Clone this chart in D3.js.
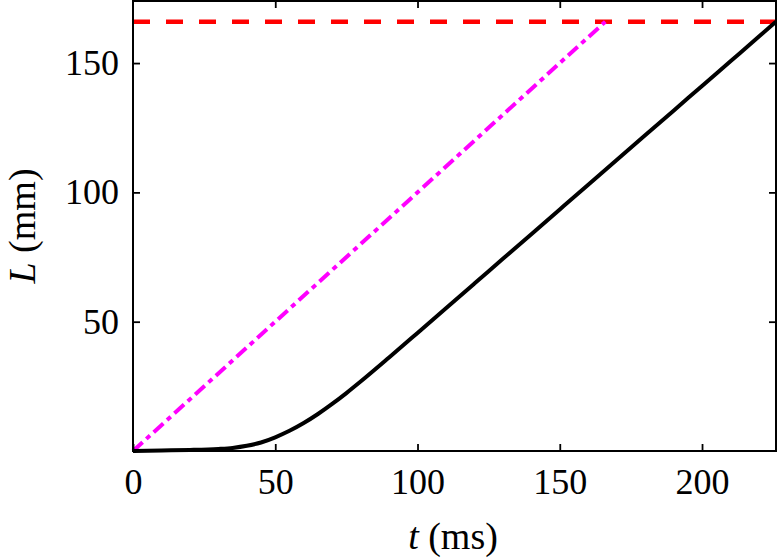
<!DOCTYPE html>
<html>
<head>
<meta charset="utf-8">
<script src="https://cdn.jsdelivr.net/npm/d3@7"></script>
<style>
  body { margin: 0; background: #fff; }
  svg text { font-family: "Liberation Serif", "Times New Roman", Times, serif; }
</style>
</head>
<body>
<svg id="chart" width="777" height="559"></svg>
<script>
// curve: t (ms) vs L (mm)
let tVals = [0, 10, 20, 30, 35, 40, 45, 50, 55, 60, 65, 70, 75, 80, 90, 100, 110, 120, 130, 140, 150, 160, 170, 180, 190, 200, 210, 220, 226];
let lVals = [0, 0.2, 0.4, 0.8, 1.2, 2.0, 3.3, 5.3, 7.8, 10.8, 14.3, 18.2, 22.4, 26.85, 36.15, 45.65, 55.2, 64.75, 74.3, 83.85, 93.4, 102.95, 112.5, 122.05, 131.6, 141.15, 150.7, 160.25, 166];
// reference lines
let linearT = [0, 166];
let linearL = [0, 166];
let limitL = 166;
let xTicks = [0, 50, 100, 150, 200];
let yTicks = [50, 100, 150];

let serif = '"Liberation Serif", "Times New Roman", Times, serif';
let svg = d3.select("#chart");

let x = d3.scaleLinear().domain([0, 226]).range([133, 776]);
let y = d3.scaleLinear().domain([0, 174]).range([451, 1]);

let line = d3.line()
             .x(d => x(d[0]))
             .y(d => y(d[1]));

// limit (dashed red)
svg.append('path')
   .attr('d', line([[0, limitL], [226, limitL]]))
   .attr('fill', 'none')
   .attr('stroke', '#ff0000')
   .attr('stroke-width', 4.5)
   .attr('stroke-dasharray', '17,16');

// L = t (dash-dot magenta)
svg.append('path')
   .attr('d', line(linearT.map((t, i) => [t, linearL[i]])))
   .attr('fill', 'none')
   .attr('stroke', '#ff00ff')
   .attr('stroke-width', 4)
   .attr('stroke-dasharray', '13,5,5,5');

// measured curve
svg.append('path')
   .attr('d', d3.line().curve(d3.curveMonotoneX)
              .x(d => x(d[0])).y(d => y(d[1]))(tVals.map((t, i) => [t, lVals[i]])))
   .attr('fill', 'none')
   .attr('stroke', '#000')
   .attr('stroke-width', 4);

// axes, ticks pointing inwards
function styleAxis(g) {
  g.attr('font-family', serif);
  g.select('.domain').remove();
  g.selectAll('line').attr('stroke', '#000').attr('stroke-width', 1.8);
  g.selectAll('text').attr('font-size', 36).attr('fill', '#000');
}

svg.append('g')
   .attr('transform', 'translate(0,451)')
   .call(d3.axisBottom(x).tickValues(xTicks).tickSize(-7).tickPadding(17).tickFormat(d3.format('d')))
   .call(styleAxis);

svg.append('g')
   .attr('transform', 'translate(133,0)')
   .call(d3.axisLeft(y).tickValues(yTicks).tickSize(-7).tickPadding(14).tickFormat(d3.format('d')))
   .call(styleAxis);

svg.append('g')
   .attr('transform', 'translate(0,1)')
   .call(d3.axisTop(x).tickValues(xTicks.slice(1)).tickSize(-7).tickFormat(''))
   .call(styleAxis);

svg.append('g')
   .attr('transform', 'translate(776,0)')
   .call(d3.axisRight(y).tickValues(yTicks).tickSize(-7).tickFormat(''))
   .call(styleAxis);

// frame
svg.append('rect')
   .attr('x', 133).attr('y', 1)
   .attr('width', 643).attr('height', 450)
   .attr('fill', 'none')
   .attr('stroke', '#000')
   .attr('stroke-width', 2);

// axis titles
let xt = svg.append('text')
   .attr('x', 453).attr('y', 549)
   .attr('text-anchor', 'middle')
   .attr('font-family', serif)
   .attr('font-size', 38);
xt.append('tspan').attr('font-style', 'italic').text('t');
xt.append('tspan').text(' (ms)');

let yt = svg.append('text')
   .attr('transform', 'translate(35,226) rotate(-90)')
   .attr('text-anchor', 'middle')
   .attr('font-family', serif)
   .attr('font-size', 38);
yt.append('tspan').attr('font-style', 'italic').text('L');
yt.append('tspan').text(' (mm)');
</script>
</body>
</html>
